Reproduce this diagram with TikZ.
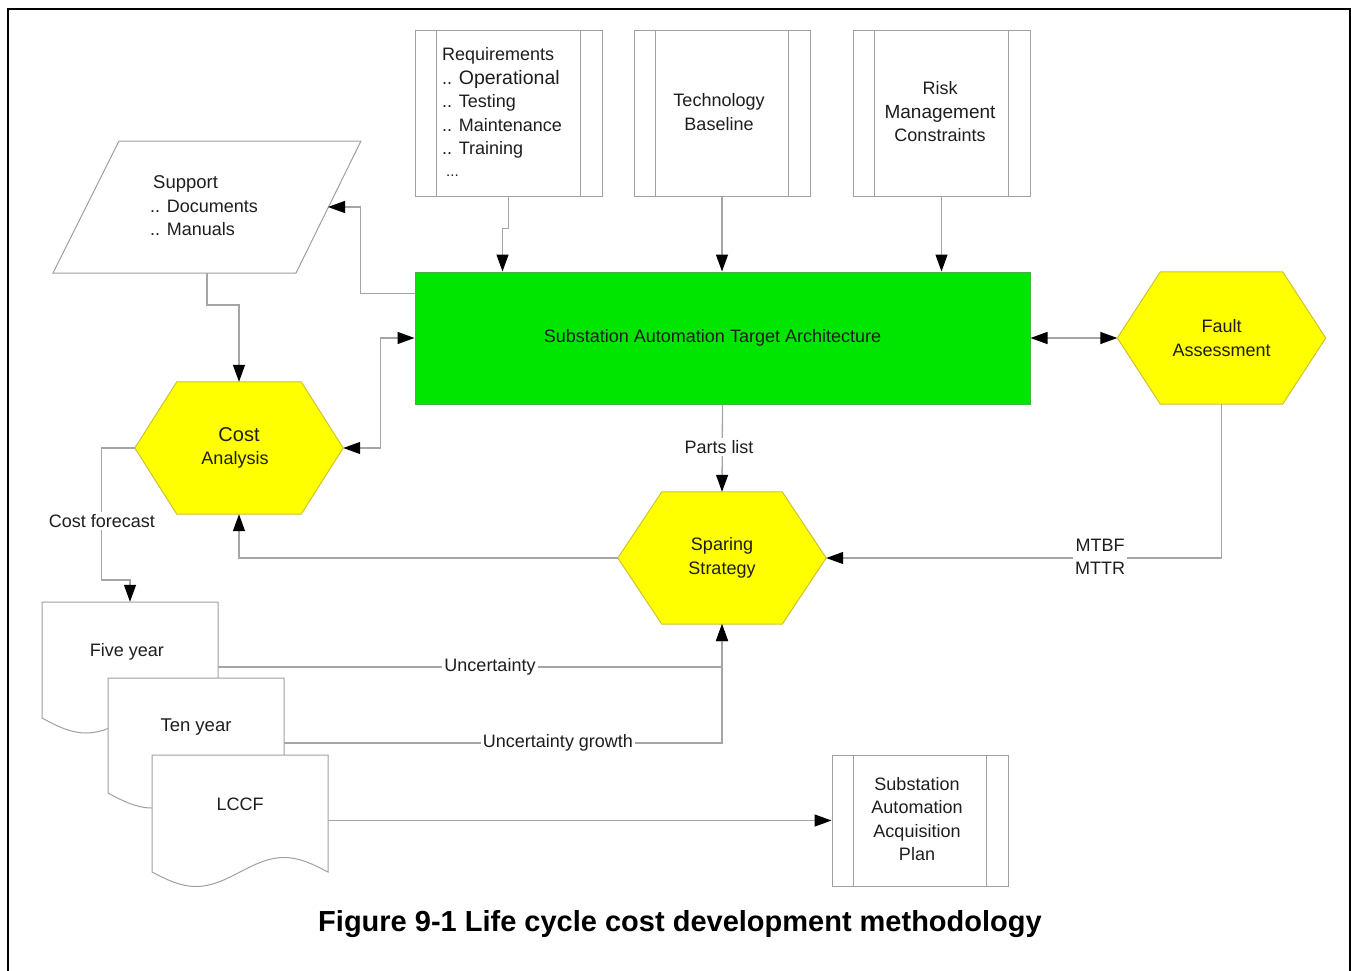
\documentclass[tikz,border=0pt]{standalone}
\usepackage{fontspec}
\setmainfont{Liberation Sans}
\usetikzlibrary{arrows.meta,calc}
\pgfdeclarelayer{background}
\pgfsetlayers{background,main}

\definecolor{linegray}{RGB}{165,165,165}
\definecolor{boxgray}{RGB}{160,160,160}
\definecolor{archgreen}{RGB}{0,230,0}
\definecolor{archedge}{RGB}{70,175,70}
\definecolor{hexyellow}{RGB}{255,255,0}
\definecolor{hexedge}{RGB}{205,195,50}
\definecolor{ink}{RGB}{30,30,30}

\tikzset{
  txt/.style={font=\fontsize{18}{23.5}\selectfont, text=ink, inner sep=0pt, align=center},
  procbox/.style={draw=boxgray, line width=1pt, fill=white, inner sep=0pt},
  shapeline/.style={draw=boxgray, line width=1pt, fill=white},
  hexnode/.style={txt, minimum width=208pt, minimum height=132pt},
  hexshape/.style={fill=hexyellow, draw=hexedge, line width=1pt},
  docnode/.style={minimum width=176pt, inner sep=0pt},
  conn/.style={draw=linegray, line width=1.3pt, -{Triangle[length=17pt,width=12pt,color=black]}},
  biconn/.style={draw=linegray, line width=1.3pt, {Triangle[length=17pt,width=12pt,color=black]}-{Triangle[length=17pt,width=12pt,color=black]}},
  lbl/.style={txt, fill=white, inner sep=2pt}
}

% vertical bars inside a predefined-process box
\newcommand\sidebars[2]{%
  \draw[boxgray, line width=1pt] ([xshift=#2]#1.north west) -- ([xshift=#2]#1.south west)
    ([xshift=-#2]#1.north east) -- ([xshift=-#2]#1.south east);}

% hexagon drawn around a node, #2 = horizontal slant of the side edges
\newcommand\hexaround[2]{%
  \path[hexshape] (#1.west) -- ([xshift=#2]#1.north west) -- ([xshift=-#2]#1.north east)
    -- (#1.east) -- ([xshift=-#2]#1.south east) -- ([xshift=#2]#1.south west) -- cycle;}

% document symbol: left, right, top, bottom at the side edges, wave amplitude
\newcommand\docsymbol[5]{%
  \path[shapeline] (#1,#4) -- (#1,#3) -- (#2,#3) -- (#2,#4)
    sin ({#2-(#2-#1)/4},{#4-#5}) cos ({(#1+#2)/2},#4)
    sin ({#1+(#2-#1)/4},{#4+#5}) cos (#1,#4) -- cycle;}

\begin{document}
\begin{tikzpicture}[x=1pt,y=-1pt]
\useasboundingbox (0,0) rectangle (1351,971);

% outer frame
\draw[line width=2.2pt] (8,985) -- (8,9) -- (1350,9) -- (1350,985);

% ---- input boxes along the top
\node[procbox, minimum width=187pt, minimum height=165pt] (req) at (508.5,113.5) {};
\sidebars{req}{22pt}
\node[txt, align=left, anchor=west] (reqtext) at (442,113) {Requirements\\
  .. {\fontsize{19.5}{23.5}\selectfont Operational}\\
  .. Testing\\
  .. Maintenance\\
  .. Training\\
  \hspace*{4pt}\raisebox{2pt}{\fontsize{15}{15}\selectfont ...}};

\node[procbox, minimum width=176pt, minimum height=165pt] (tech) at (722,113.5) {};
\sidebars{tech}{22pt}
\node[txt] (techtext) at (719,112) {Technology\\Baseline};

\node[procbox, minimum width=177pt, minimum height=165pt] (risk) at (941.5,113.5) {};
\sidebars{risk}{22pt}
\node[txt] (risktext) at (940,112) {Risk\\{\fontsize{19}{23.5}\selectfont Management}\\Constraints};

% ---- support documents (parallelogram)
\path[shapeline] (119,141) -- (361,141) -- (296,273) -- (53,273) -- cycle;
\coordinate (suppin) at (328,207);
\coordinate (suppout) at (207,273);
\node[txt, align=left, anchor=west] (support) at (150,206) {\hspace*{3pt}{\fontsize{18.5}{23.5}\selectfont Support}\\.. Documents\\.. Manuals};

% ---- target architecture
\node[txt, draw=archedge, fill=archgreen, line width=1pt, minimum width=615pt, minimum height=132pt,
  label={[txt, xshift=-10pt]center:Substation Automation Target Architecture}] (arch) at (722.5,338) {};

% ---- hexagons
\node[hexnode] (cost) at (239,448) {{\fontsize{20}{23}\selectfont Cost}\\[-1pt]\hspace*{-8pt}Analysis};
\node[hexnode] (fault) at (1221.5,338) {Fault\\Assessment};
\node[hexnode] (sparing) at (722,558) {Sparing\\Strategy};
\begin{pgfonlayer}{background}
  \hexaround{cost}{42pt}
  \hexaround{fault}{43pt}
  \hexaround{sparing}{44pt}
\end{pgfonlayer}

% ---- forecast documents
\begin{pgfonlayer}{background}
  \docsymbol{42}{218}{602}{718}{15}
  \docsymbol{108}{284}{678}{793}{15}
  \docsymbol{152}{328}{755}{872}{14.5}
\end{pgfonlayer}
\node[docnode, minimum height=116pt, label={[txt, xshift=-3pt, yshift=8pt]center:Five year}] (five) at (130,660) {};
\node[docnode, minimum height=115pt, label={[txt, yshift=8pt]center:{\fontsize{18.5}{23}\selectfont Ten year}}] (ten) at (196,735.5) {};
\node[docnode, minimum height=117pt, label={[txt, yshift=9pt]center:LCCF}] (lccf) at (240,813.5) {};

% ---- acquisition plan
\node[procbox, minimum width=176pt, minimum height=131pt] (plan) at (920,820.5) {};
\sidebars{plan}{22pt}
\node[txt] (plantext) at (917,819) {Substation\\Automation\\Acquisition\\Plan};

% ---- connectors
\draw[conn] (req.south) -- ++(0,32) -| ($(arch.north west)+(88,0)$);
\draw[conn] (tech.south) -- (tech.south |- arch.north);
\draw[conn] (risk.south) -- (risk.south |- arch.north);
\draw[conn] ($(arch.north west)+(0,22)$) -- ++(-54,0) |- (suppin);
\draw[conn] (suppout) -- ++(0,32) -| (cost.north);
\draw[biconn] (arch.west) -- ++(-34,0) |- (cost.east);
\draw[biconn] (arch.east) -- (fault.west);
\draw[conn] (arch.south) -- (sparing.north);
\draw[conn] (fault.south) |- (sparing.east);
\draw[conn] (sparing.west) -| (cost.south);
\draw[conn] (cost.west) -- ++(-33,0) -- ++(0,132) -| (five.north);
\draw[conn] ($(five.east)+(0,7)$) -| (sparing.south);
\draw[conn] ($(ten.east)+(0,7.5)$) -| (sparing.south);
\draw[conn] (lccf.east |- plan.west) -- (plan.west);

% ---- connector labels
\node[lbl] (partslbl) at (719,447) {Parts list};
\node[lbl] (mtbflbl) at (1100,557) {MTBF\\MTTR};
\node[lbl] (forecastlbl) at (102,521) {Cost forecast};
\node[lbl] (unclbl) at (490,667) {Uncertainty};
\node[lbl] (ugrowlbl) at (558,743) {Uncertainty growth};

% ---- caption
\node[font=\bfseries\fontsize{29}{34}\selectfont, inner sep=0pt] (caption) at (680,924)
  {Figure 9-1 Life cycle cost development methodology};
\end{tikzpicture}
\end{document}
